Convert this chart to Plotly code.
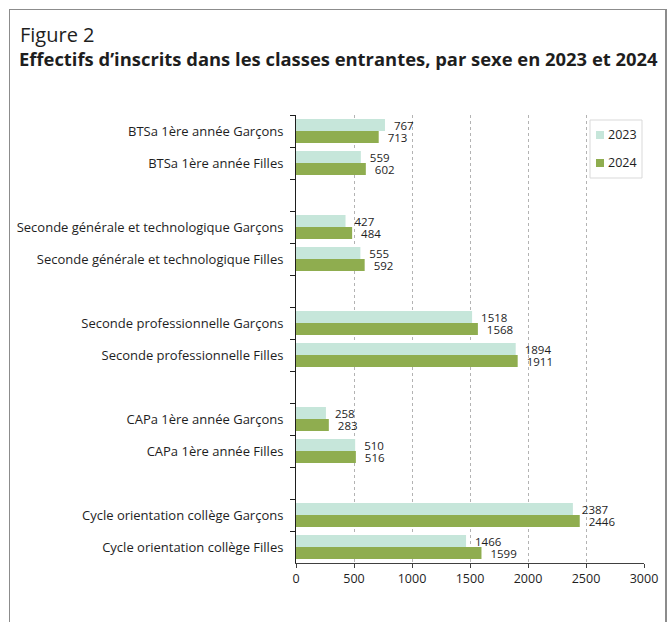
import plotly.graph_objects as go

categories = [
    "BTSa 1ère année Garçons",
    "BTSa 1ère année Filles",
    " ",
    "Seconde générale et technologique Garçons",
    "Seconde générale et technologique Filles",
    "  ",
    "Seconde professionnelle Garçons",
    "Seconde professionnelle Filles",
    "   ",
    "CAPa 1ère année Garçons",
    "CAPa 1ère année Filles",
    "    ",
    "Cycle orientation collège Garçons",
    "Cycle orientation collège Filles",
]
values_2023 = [767, 559, None, 427, 555, None, 1518, 1894, None, 258, 510, None, 2387, 1466]
values_2024 = [713, 602, None, 484, 592, None, 1568, 1911, None, 283, 516, None, 2446, 1599]
series_names = ["2023", "2024"]
series_colors = ["#c6e6da", "#8fad4f"]
x_ticks = [0, 500, 1000, 1500, 2000, 2500, 3000]

FONT = "Open Sans"
TXT = "#1e1e1e"

W, H = 670, 622
L, R, T, B = 296, 26, 115, 59
PW, PH = W - L - R, H - T - B


def px(x):
    return (x - L) / PW


def py(y):
    return (H - B - y) / PH


def labels(vals):
    return ["" if v is None else "  " + str(v) for v in vals]


fig = go.Figure()
for name, vals, col in zip(series_names, [values_2023, values_2024], series_colors):
    fig.add_trace(go.Bar(
        y=categories, x=vals, orientation="h", name=name,
        marker=dict(color=col, line=dict(width=0)),
        text=labels(vals), textposition="outside", constraintext="none",
        cliponaxis=False, textfont=dict(family=FONT, size=11.5, color=TXT),
        showlegend=False,
    ))

border = "#8c8c8c"
shapes = [
    dict(type="line", xref="paper", yref="paper", x0=px(9), x1=px(666), y0=py(9.5), y1=py(9.5),
         line=dict(color=border, width=1)),
    dict(type="line", xref="paper", yref="paper", x0=px(9.5), x1=px(9.5), y0=py(9), y1=py(640),
         line=dict(color=border, width=1)),
    dict(type="line", xref="paper", yref="paper", x0=px(666), x1=px(666), y0=py(9), y1=py(640),
         line=dict(color=border, width=2)),
    # legend box
    dict(type="rect", xref="paper", yref="paper", x0=px(590), x1=px(642), y0=py(120), y1=py(178),
         line=dict(color="#d9d9d9", width=1), fillcolor="white", layer="above"),
]

annotations = [
    dict(text="Figure 2", xref="paper", yref="paper", x=px(18), y=py(34),
         xanchor="left", yanchor="middle", showarrow=False,
         font=dict(family=FONT, size=20, color=TXT)),
    dict(text="<b>Effectifs d’inscrits dans les classes entrantes, par sexe en 2023 et 2024</b>",
         xref="paper", yref="paper", x=px(17), y=py(58),
         xanchor="left", yanchor="middle", showarrow=False,
         font=dict(family=FONT, size=18.4, color=TXT)),
]

# legend entries
for i, (name, col) in enumerate(zip(series_names, series_colors)):
    yc = 135 + 28 * i
    shapes.append(dict(type="rect", xref="paper", yref="paper",
                       x0=px(596), x1=px(604), y0=py(yc - 4), y1=py(yc + 4),
                       line=dict(width=0), fillcolor=col, layer="above"))
    annotations.append(dict(text=name, xref="paper", yref="paper", x=px(606), y=py(yc),
                            xanchor="left", yanchor="middle", showarrow=False,
                            font=dict(family=FONT, size=12.5, color=TXT)))

fig.update_layout(
    width=W, height=H,
    margin=dict(l=L, r=R, t=T, b=B, pad=0),
    paper_bgcolor="white", plot_bgcolor="white",
    barmode="group", bargap=0.25, bargroupgap=0,
    font=dict(family=FONT, size=12, color=TXT),
    shapes=shapes, annotations=annotations,
    showlegend=False,
    xaxis=dict(
        range=[0, 3000], tickvals=x_ticks, ticktext=[str(v) for v in x_ticks],
        showgrid=True, gridcolor="#b3b3b3", griddash="dot", gridwidth=1,
        showline=True, linecolor="#404040", linewidth=1,
        ticks="outside", ticklen=4, tickcolor="#404040",
        tickfont=dict(family=FONT, size=12.5, color=TXT),
        zeroline=False, fixedrange=True,
    ),
    yaxis=dict(
        type="category", categoryorder="array", categoryarray=categories,
        autorange="reversed",
        showline=True, linecolor="#1e1e1e", linewidth=1,
        ticks="outside", ticklen=5, tickcolor="#1e1e1e", tickson="boundaries",
        tickfont=dict(family=FONT, size=13, color=TXT),
        ticklabelstandoff=9, showgrid=False, fixedrange=True,
    ),
)

fig.write_html(
    "out.html",
    config={"displayModeBar": False},
    post_script="document.body.style.margin='0';document.body.style.overflow='hidden';",
)
